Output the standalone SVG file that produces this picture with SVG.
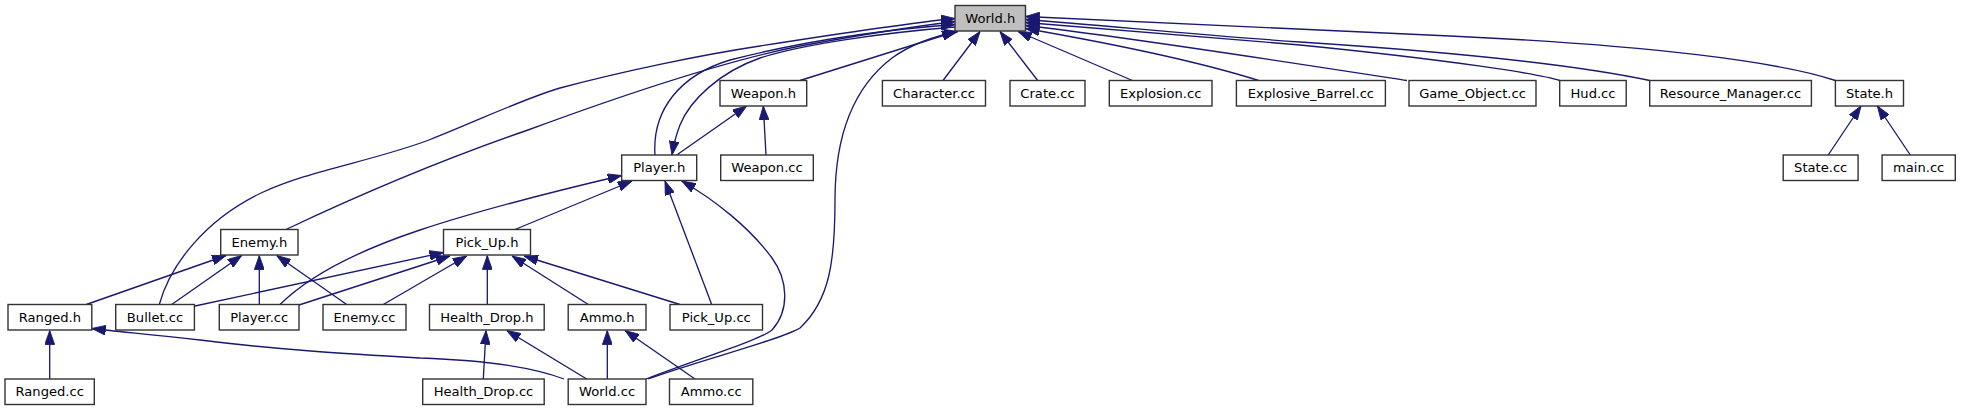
<svg xmlns="http://www.w3.org/2000/svg" width="1965" height="411" viewBox="0 0 1965 411">
<style>
.n rect{fill:#ffffff;stroke:#333333;stroke-width:1.4}
.n text{font-family:"DejaVu Sans","Liberation Sans",sans-serif;font-size:13.1px;fill:#000000;text-anchor:middle}
#n_world_h rect{fill:#bfbfbf}
.e path{fill:none;stroke:#191970;stroke-width:1.33;marker-end:url(#ah)}
</style>
<defs>
<marker id="ah" markerUnits="userSpaceOnUse" markerWidth="14" markerHeight="10" viewBox="0 0 13.3 9.4" refX="13.3" refY="4.7" orient="auto">
<path d="M0,0 L13.3,4.7 L0,9.4 z" fill="#191970" stroke="#191970" stroke-width="0.8"/>
</marker>
</defs>
<rect x="0" y="0" width="1965" height="411" fill="#ffffff"/>
<g id="edges" class="e">
<path d="M943,80.5 L980,31.5"/>
<path d="M1037.7,80.5 L1000,31.5"/>
<path d="M1132.4,80.5 L1018,31.5"/>
<path d="M1258.7,80.5 C1200,62 1120,45 1025.5,28.5"/>
<path d="M1407,80.5 C1300,64 1120,36 1025.5,25.5"/>
<path d="M1559.7,80.5 C1540,74 1450,60 1300,45 C1200,37 1100,29 1025.5,22.5"/>
<path d="M1649.7,80.5 C1600,70 1500,55 1300,42 C1200,35 1100,25 1025.5,19.5"/>
<path d="M1835.4,80.5 C1780,62 1650,45 1450,36 C1300,28 1150,22 1025.5,16.5"/>
<path d="M800,80.5 L956,31.5"/>
<path d="M655,155 C652,110 680,75 730,60 C800,42 880,30 955,24.5"/>
<path d="M955,27 C880,33 800,45 760,58 C720,72 690,100 680,125 C676,135 674,143 672,155"/>
<path d="M286,229.5 C380,185 470,150 528,130 C620,96 720,62 800,46 C860,35 910,27 955,21.5"/>
<path d="M159.3,304.5 C170,265 205,220 261,193 C310,170 370,162 429,140 C480,120 520,100 560,88 C620,72 700,55 760,46 C830,35 900,24 955,18.5"/>
<path d="M648,379 C700,360 780,340 800,328 C830,300 835,260 835,200 C835,140 850,90 892,58 C910,45 935,36 958,31.5"/>
<path d="M676.7,155 L746.7,106"/>
<path d="M766,155 L763.3,106"/>
<path d="M646,379 C700,358 760,340 772,330 C790,310 788,280 772,258 C750,228 715,200 681.7,181"/>
<path d="M280,304.5 C310,275 360,250 420,230 C480,210 560,190 621.7,175.5"/>
<path d="M515,229.5 L632,181"/>
<path d="M711.7,304.5 L665,181"/>
<path d="M195,306 L443.5,252.5"/>
<path d="M299,305 L450,256"/>
<path d="M383.3,304.5 L466.7,256"/>
<path d="M487.3,304.5 L487.3,255.5"/>
<path d="M588.3,304.5 L512,256"/>
<path d="M680,304.5 L524,256"/>
<path d="M86.3,304.5 L226,255.5"/>
<path d="M171.7,304.5 L241.7,255.5"/>
<path d="M259.3,304.5 L259.3,255.5"/>
<path d="M346.7,304.5 L276.7,255.5"/>
<path d="M49.7,379 L49.7,330.5"/>
<path d="M564,379 C530,366 480,360 420,358 C350,354 280,350 200,340 C150,334 120,332 91.8,328.5"/>
<path d="M483.3,379 L486,330.5"/>
<path d="M586.7,379 L506.7,330.5"/>
<path d="M607.3,379 L607.3,330.5"/>
<path d="M695,379 L625,330.5"/>
<path d="M1828.2,155 L1861,106"/>
<path d="M1910.3,155 L1877.4,106"/>
</g>
<g id="n_world_h" class="n"><rect x="955" y="5.5" width="70.5" height="25.5"/><text x="990.3" y="22.5">World.h</text></g>
<g id="n_weapon_h" class="n"><rect x="720" y="80.5" width="86.7" height="25.5"/><text x="763.4" y="97.5">Weapon.h</text></g>
<g id="n_character_cc" class="n"><rect x="882.4" y="80.5" width="103.1" height="25.5"/><text x="934" y="97.5">Character.cc</text></g>
<g id="n_crate_cc" class="n"><rect x="1010" y="80.5" width="75" height="25.5"/><text x="1047.5" y="97.5">Crate.cc</text></g>
<g id="n_explosion_cc" class="n"><rect x="1109.3" y="80.5" width="102.7" height="25.5"/><text x="1160.7" y="97.5">Explosion.cc</text></g>
<g id="n_explosive_barrel_cc" class="n"><rect x="1236.4" y="80.5" width="149" height="25.5"/><text x="1310.9" y="97.5">Explosive_Barrel.cc</text></g>
<g id="n_game_object_cc" class="n"><rect x="1409" y="80.5" width="127" height="25.5"/><text x="1472.5" y="97.5">Game_Object.cc</text></g>
<g id="n_hud_cc" class="n"><rect x="1559.7" y="80.5" width="66.5" height="25.5"/><text x="1593" y="97.5">Hud.cc</text></g>
<g id="n_resource_manager_cc" class="n"><rect x="1649.7" y="80.5" width="161.7" height="25.5"/><text x="1730.5" y="97.5">Resource_Manager.cc</text></g>
<g id="n_state_h" class="n"><rect x="1835.4" y="80.5" width="68.1" height="25.5"/><text x="1869.5" y="97.5">State.h</text></g>
<g id="n_player_h" class="n"><rect x="621.7" y="155" width="75" height="25.5"/><text x="659.2" y="172">Player.h</text></g>
<g id="n_weapon_cc" class="n"><rect x="720.7" y="155" width="92.6" height="25.5"/><text x="767" y="172">Weapon.cc</text></g>
<g id="n_state_cc" class="n"><rect x="1783.2" y="155" width="74.9" height="25.5"/><text x="1820.7" y="172">State.cc</text></g>
<g id="n_main_cc" class="n"><rect x="1882.1" y="155" width="73.2" height="25.5"/><text x="1918.7" y="172">main.cc</text></g>
<g id="n_enemy_h" class="n"><rect x="220.7" y="229.5" width="77.3" height="25.5"/><text x="259.4" y="246.5">Enemy.h</text></g>
<g id="n_pick_up_h" class="n"><rect x="443.5" y="229.5" width="87" height="25.5"/><text x="487" y="246.5">Pick_Up.h</text></g>
<g id="n_ranged_h" class="n"><rect x="8" y="304.5" width="83.8" height="25.5"/><text x="49.9" y="321.5">Ranged.h</text></g>
<g id="n_bullet_cc" class="n"><rect x="115.7" y="304.5" width="78.7" height="25.5"/><text x="155" y="321.5">Bullet.cc</text></g>
<g id="n_player_cc" class="n"><rect x="219.3" y="304.5" width="79.7" height="25.5"/><text x="259.2" y="321.5">Player.cc</text></g>
<g id="n_enemy_cc" class="n"><rect x="323" y="304.5" width="83" height="25.5"/><text x="364.5" y="321.5">Enemy.cc</text></g>
<g id="n_health_drop_h" class="n"><rect x="429.5" y="304.5" width="114.7" height="25.5"/><text x="486.9" y="321.5">Health_Drop.h</text></g>
<g id="n_ammo_h" class="n"><rect x="568.2" y="304.5" width="77.8" height="25.5"/><text x="607.1" y="321.5">Ammo.h</text></g>
<g id="n_pick_up_cc" class="n"><rect x="670" y="304.5" width="92.5" height="25.5"/><text x="716.3" y="321.5">Pick_Up.cc</text></g>
<g id="n_ranged_cc" class="n"><rect x="5" y="379" width="89.3" height="25.5"/><text x="49.7" y="396">Ranged.cc</text></g>
<g id="n_health_drop_cc" class="n"><rect x="422.7" y="379" width="121.5" height="25.5"/><text x="483.5" y="396">Health_Drop.cc</text></g>
<g id="n_world_cc" class="n"><rect x="568.2" y="379" width="77.8" height="25.5"/><text x="607.1" y="396">World.cc</text></g>
<g id="n_ammo_cc" class="n"><rect x="669.5" y="379" width="83.3" height="25.5"/><text x="711.2" y="396">Ammo.cc</text></g>
</svg>
